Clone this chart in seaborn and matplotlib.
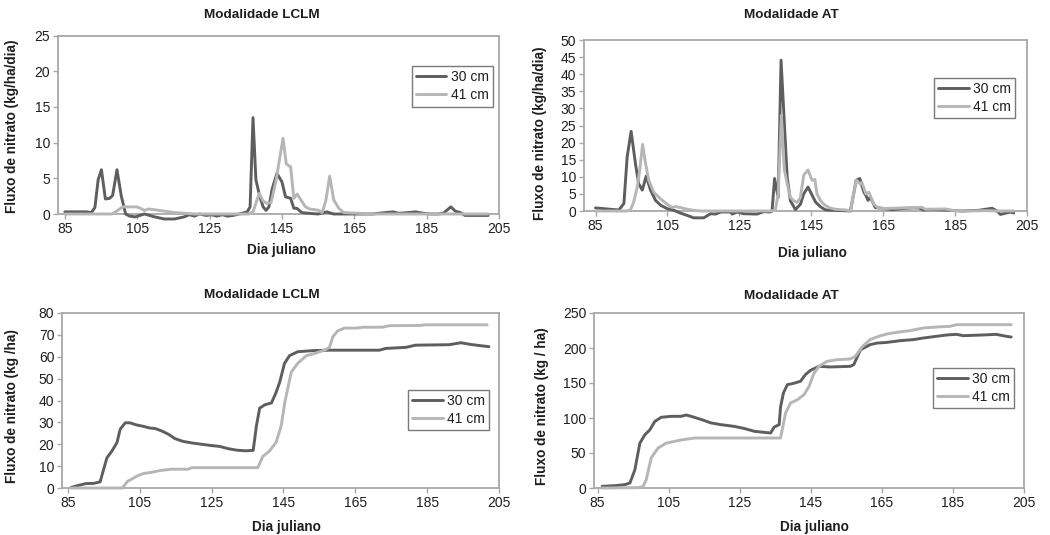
import matplotlib
matplotlib.use("Agg")
import matplotlib.pyplot as plt
import seaborn as sns
import pandas as pd

# ---------------- data ----------------
series_labels = ["30 cm", "41 cm"]
panel_titles = ["Modalidade LCLM", "Modalidade AT", "Modalidade LCLM", "Modalidade AT"]
y_labels = ["Fluxo de nitrato (kg/ha/dia)", "Fluxo de nitrato (kg/ha/dia)",
            "Fluxo de nitrato (kg /ha)", "Fluxo de nitrato (kg / ha)"]
x_label = "Dia juliano"
x_ticks = [85, 105, 125, 145, 165, 185, 205]

# LCLM daily flux
lclm_flux_30_day = [85, 87, 89, 91, 92.3, 93.3, 94.2, 95.1, 96.2, 97.4, 98.2, 99.4, 100.6, 101.8, 102.9,
                    104.5, 107, 109.8, 112.5, 115.3, 118, 119.4, 120.8, 122.2, 124, 125.5, 127, 128.5,
                    130, 131.5, 133.2, 135.4, 136.2, 137.0, 137.8, 138.9, 139.8, 140.6, 141.4, 142.3,
                    143.6, 145.0, 146.0, 147.4, 148.3, 149.1, 150.5, 152.4, 155, 157.4, 159.3, 165, 170,
                    173.6, 175.8, 177.2, 180, 181.9, 184.1, 186, 188.2, 189.6, 191.7, 192.9, 194.3,
                    195.6, 198, 202]
lclm_flux_30_val = [0.3, 0.3, 0.3, 0.3, 0.2, 0.9, 4.8, 6.2, 2.1, 2.2, 2.6, 6.2, 2.5, 0.0, -0.3,
                    -0.4, 0.0, -0.4, -0.7, -0.7, -0.4, -0.1, -0.3, 0.0, -0.2, -0.1, -0.3, -0.1,
                    -0.3, -0.2, 0.0, 0.3, 1.0, 13.5, 4.8, 2.4, 1.0, 0.5, 1.0, 3.5,
                    5.7, 4.5, 2.4, 2.2, 0.8, 0.8, 0.2, 0.1, 0.0, 0.3, 0.0, 0.0, 0.0,
                    0.2, 0.3, 0.1, 0.2, 0.3, 0.1, 0.0, 0.0, 0.1, 1.0, 0.4, 0.2,
                    -0.2, -0.2, -0.2]
lclm_flux_41_day = [85, 98, 99.0, 101, 104.8, 105.9, 107, 108.1, 109.8, 112.5, 115.3, 118, 120.8,
                    135.9, 137, 137.8, 138.7, 139.8, 140.9, 142, 143.3, 145.3, 146.2, 147.4, 148.3,
                    149.2, 150.2, 151.5, 152.7, 154.1, 155.2, 156.1, 157.1, 158.2, 159.3, 160.7,
                    162.1, 166.2, 168.9, 202]
lclm_flux_41_val = [0.0, 0.0, 0.3, 1.0, 1.0, 0.8, 0.5, 0.7, 0.6, 0.4, 0.2, 0.1, 0.0,
                    0.0, 0.3, 1.5, 2.9, 1.8, 1.5, 1.6, 4.5, 10.6, 7.0, 6.6, 2.2,
                    2.8, 2.0, 1.0, 0.7, 0.6, 0.5, 0.2, 1.8, 5.3, 2.0, 0.8,
                    0.2, 0.1, 0.0, 0.0]

# AT daily flux
at_flux_30_day = [85, 89.2, 91.5, 92.9, 93.8, 94.9, 96.1, 97.0, 98.0, 99.1, 100.3, 101.7, 103.1, 104.9,
                  106.8, 108.6, 110.5, 112.3, 115.1, 117.0, 118.4, 119.8, 122.5, 123.0, 124.4, 126.2,
                  129.9, 131.8, 133.6, 134.1, 134.8, 135.8, 136.6, 138.3, 139.2, 140.6, 142.0, 142.9,
                  144.1, 146.2, 147.6, 149.0, 155.9, 157.5, 158.5, 159.6, 160.2, 160.8, 161.4, 162.8,
                  164.7, 167.4, 170.2, 173.0, 174.9, 176.3, 178.6, 182.3, 186.9, 191.6, 193.4, 195.3,
                  196.7, 197.6, 200.4, 201.3]
at_flux_30_val = [0.9, 0.5, 0.3, 2.2, 15.8, 23.3, 13.9, 8.0, 6.1, 10.2, 6.1, 3.1, 1.7, 0.7,
                  0.2, -0.6, -1.3, -2.0, -2.0, -0.8, -0.9, -0.3, -0.3, -0.9, -0.3, -0.8,
                  -0.9, -0.2, -0.3, 0.0, 9.5, 4.0, 44.1, 10.0, 3.0, 0.4, 2.0, 5.0,
                  7.0, 2.6, 1.2, 0.3, 0.0, 9.0, 9.5, 5.6, 4.5, 3.1, 4.1, 1.0,
                  0.8, 0.4, 0.7, 0.9, 0.9, 0.3, 0.4, 0.3, 0.0, 0.2, 0.5, 0.8,
                  0.0, -1.0, -0.3, -0.6]
at_flux_41_day = [85, 93.8, 94.7, 95.6, 96.6, 97.3, 98.1, 98.9, 99.8, 101.2, 103.1, 104.9, 106.3,
                  107.2, 108.6, 110.5, 112.3, 114.2, 133.6, 135.0, 135.8, 136.7, 137.5, 138.3, 139.2,
                  140.1, 141.1, 142.0, 142.9, 144.1, 145.2, 146.0, 146.6, 147.6, 148.5, 149.9, 151.7,
                  154.5, 155.9, 157.5, 158.5, 159.1, 160.2, 161.0, 162.4, 163.8, 167.4, 170.2, 173.0,
                  175.8, 176.7, 182.3, 184.1, 187.9, 193.4, 197.1, 201.3]
at_flux_41_val = [0.0, 0.0, 0.3, 2.5, 7.0, 12.0, 19.5, 14.0, 9.0, 5.5, 3.5, 2.0, 1.0,
                  1.3, 1.0, 0.5, 0.2, 0.0, 0.0, 0.2, 5.0, 28.0, 12.0, 8.0, 4.0,
                  3.0, 2.5, 4.0, 10.5, 12.0, 9.0, 9.2, 5.0, 3.0, 2.0, 1.0, 0.5,
                  0.3, 0.0, 9.0, 8.0, 8.3, 5.0, 5.5, 2.0, 0.7, 0.8, 0.9, 1.0,
                  1.1, 0.5, 0.6, 0.2, 0.0, 0.1, 0.0, 0.0]

# LCLM cumulative flux
lclm_cum_30_day = [86, 88, 90, 92.2, 94.0, 95.9, 97.3, 98.7, 99.6, 101.0, 102.3, 104.2, 106.0, 107.9,
                   109.3, 111.1, 113.0, 114.8, 117.1, 119.5, 122.2, 125.0, 127.3, 129.6, 132.0, 134.3,
                   136.6, 137.5, 138.4, 139.8, 141.7, 143.0, 144.0, 145.3, 146.7, 149.0, 153.2, 157.8,
                   171.7, 173.5, 179.1, 181.8, 191.1, 194.4, 197.2, 202.2]
lclm_cum_30_val = [0.3, 1.2, 2.0, 2.1, 2.8, 13.8, 16.9, 20.8, 26.9, 29.8, 29.8, 28.8, 28.2, 27.4,
                   27.2, 26.1, 24.6, 22.6, 21.3, 20.6, 20.0, 19.4, 19.0, 18.0, 17.3, 17.0,
                   17.2, 28.4, 36.5, 38.0, 38.9, 43.8, 48.5, 56.9, 60.5, 62.3, 62.8, 63.0,
                   63.0, 63.8, 64.3, 65.3, 65.5, 66.4, 65.6, 64.6]
lclm_cum_41_day = [86, 100.2, 101.6, 104.2, 106.0, 108.4, 111.1, 113.9, 118.5, 119.5, 137.9, 139.3,
                   141.2, 143.0, 144.4, 145.4, 147.2, 149.0, 151.4, 153.7, 156.4, 157.8, 158.8, 160.1,
                   162.0, 165.2, 167.1, 172.6, 174.5, 182.8, 184.6, 201.7]
lclm_cum_41_val = [0.0, 0.0, 3.0, 5.4, 6.6, 7.2, 8.1, 8.6, 8.6, 9.3, 9.3, 14.5,
                   17.0, 21.0, 28.5, 39.2, 53.0, 57.0, 60.5, 61.5, 63.0, 64.2, 69.2, 71.8,
                   73.1, 73.1, 73.5, 73.5, 74.2, 74.3, 74.6, 74.6]

# AT cumulative flux
at_cum_30_day = [86.3, 89.9, 92.7, 94.1, 95.5, 96.9, 98.3, 99.7, 101.1, 102.9, 105.7, 108.5, 109.9,
                 111.3, 114.1, 116.9, 119.7, 123.5, 126.3, 129.1, 131.9, 133.7, 134.7, 136.1, 136.5,
                 137.3, 138.4, 139.8, 142.1, 143.5, 144.9, 147.3, 150.5, 156.1, 157.1, 159.0, 161.7,
                 163.6, 166.4, 170.2, 173.9, 176.7, 180.4, 183.2, 186.0, 187.9, 193.5, 197.2, 200.0,
                 201.4]
at_cum_30_val = [2.4, 3.3, 4.8, 7.1, 26, 64, 76, 83, 95, 101, 102.4, 102.4, 104.3,
                 102.4, 98, 93, 90.5, 88, 85, 81, 79.5, 78.6, 87, 90.5, 116,
                 135.7, 147.6, 149, 152.4, 162, 168, 173.8, 172.9, 173.8, 176.2, 197.6, 204.8,
                 207, 208, 210.5, 212, 214.3, 216.7, 218.6, 219.5, 217.6, 218.6, 219.5, 216.7,
                 215.7]
at_cum_41_day = [86.3, 96.4, 97.8, 98.7, 100.1, 102.0, 104.3, 106.7, 109.0, 112.3, 136.5, 137.9,
                 139.3, 141.2, 143.1, 144.5, 145.9, 147.3, 149.6, 152.4, 156.1, 157.5, 159.4, 161.7,
                 164.1, 166.4, 169.2, 172.9, 176.7, 180.4, 184.2, 186.0, 201.4]
at_cum_41_val = [0, 0.5, 2, 12, 43, 57, 64, 66.7, 69, 71.4, 71.4, 107,
                 121.4, 126, 133.3, 145, 164, 173.8, 181, 183.3, 184.3, 188, 201.4, 212,
                 216.7, 220, 222.4, 224.8, 228.6, 230, 231, 233.3, 233.3]

# ---------------- styling ----------------
sns.set_theme(style="white")
plt.rcParams["font.family"] = ["Liberation Sans", "DejaVu Sans"]

W, H = 1050, 535
fig = plt.figure(figsize=(W / 100, H / 100), dpi=100)
fig.patch.set_facecolor("white")

palette = {"30 cm": "#5e5e5e", "41 cm": "#b6b6b6"}
txt = "#1e1e1e"
frame = "#a8a8a8"


def px_rect(l, r, t, b):
    return [l / W, 1 - b / H, (r - l) / W, (b - t) / H]


panels = [
    dict(d30=lclm_flux_30_day, v30=lclm_flux_30_val, d41=lclm_flux_41_day, v41=lclm_flux_41_val,
         rect=(58, 499, 35.5, 214), xlim=(83.1, 204.6), ylim=(0, 25), ystep=5,
         title_xy=(262, 15), xl_xy=(281, 250), yl_xy=(12, 126), leg=(0.986, 0.829)),
    dict(d30=at_flux_30_day, v30=at_flux_30_val, d41=at_flux_41_day, v41=at_flux_41_val,
         rect=(584, 1027, 40, 211), xlim=(81.8, 204.6), ylim=(0, 50), ystep=5,
         title_xy=(791, 15), xl_xy=(812, 253), yl_xy=(540, 133), leg=(0.973, 0.778)),
    dict(d30=lclm_cum_30_day, v30=lclm_cum_30_val, d41=lclm_cum_41_day, v41=lclm_cum_41_val,
         rect=(62, 499, 313, 488), xlim=(83.4, 205), ylim=(0, 80), ystep=10,
         title_xy=(262, 295), xl_xy=(286, 527), yl_xy=(12, 406), leg=(0.977, 0.56)),
    dict(d30=at_cum_30_day, v30=at_cum_30_val, d41=at_cum_41_day, v41=at_cum_41_val,
         rect=(594, 1024, 313, 488), xlim=(84.0, 205), ylim=(0, 250), ystep=50,
         title_xy=(791, 296), xl_xy=(814, 527), yl_xy=(542, 406), leg=(0.977, 0.686)),
]

for i, p in enumerate(panels):
    ax = fig.add_axes(px_rect(*p["rect"]))
    df = pd.concat([
        pd.DataFrame({"day": p["d30"], "value": p["v30"], "depth": series_labels[0]}),
        pd.DataFrame({"day": p["d41"], "value": p["v41"], "depth": series_labels[1]}),
    ], ignore_index=True)
    sns.lineplot(data=df, x="day", y="value", hue="depth", hue_order=series_labels,
                 palette=palette, estimator=None, linewidth=2.1, ax=ax, legend=True)
    for ln in ax.get_lines():
        ln.set_clip_on(False)
    ax.set_xlim(*p["xlim"])
    ax.set_ylim(*p["ylim"])
    ax.set_xticks(x_ticks)
    ymax = p["ylim"][1]
    ax.set_yticks(list(range(0, int(ymax) + 1, p["ystep"])))
    ax.set_xlabel("")
    ax.set_ylabel("")
    ax.tick_params(axis="both", direction="out", length=3.5, width=1.0, color=frame,
                   labelsize=10, labelcolor=txt, pad=2)
    ax.tick_params(axis="y", left=True)
    ax.tick_params(axis="x", bottom=True)
    for s in ax.spines.values():
        s.set_visible(True)
        s.set_color(frame)
        s.set_linewidth(1.3)
        s.set_zorder(0.5)
    ax.set_facecolor("white")
    ax.grid(False)

    handles, labels = ax.get_legend_handles_labels()
    leg = ax.legend(handles, labels, loc="upper right", bbox_to_anchor=p["leg"],
                    frameon=True, fancybox=False, framealpha=1, edgecolor="#7a7a7a",
                    fontsize=10, handlelength=2.2, handletextpad=0.3, labelspacing=0.3,
                    borderpad=0.3, borderaxespad=0)
    leg.get_frame().set_linewidth(1.0)
    for t in leg.get_texts():
        t.set_color(txt)
    for line in leg.get_lines():
        line.set_linewidth(2.1)

    tx, ty = p["title_xy"]
    fig.text(tx / W, 1 - ty / H, panel_titles[i], ha="center", va="center",
             fontsize=9.7, fontweight="bold", color=txt)
    xx, xy = p["xl_xy"]
    fig.text(xx / W, 1 - xy / H, x_label, ha="center", va="center",
             fontsize=9.8, fontweight="bold", color=txt)
    yx, yy = p["yl_xy"]
    fig.text(yx / W, 1 - yy / H, y_labels[i], ha="center", va="center", rotation=90,
             fontsize=9.8, fontweight="bold", color=txt)

fig.savefig("out.png", dpi=100, facecolor="white")
